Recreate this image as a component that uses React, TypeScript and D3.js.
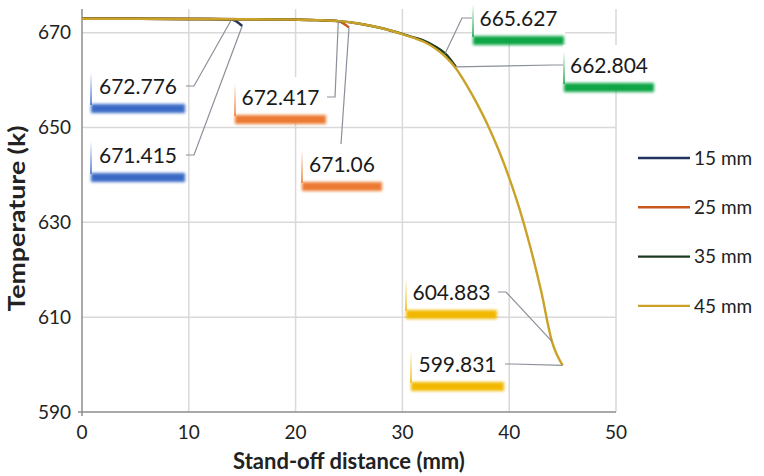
import React from 'react'
import * as d3 from 'd3'

const W = 764
const H = 476
const FONT = 'Lato, "Open Sans", sans-serif'

// stand-off distance (mm) / temperature (K) per series
const DIST_15 = [0, 5, 10, 12, 14, 15]
const TEMP_15 = [672.95, 672.93, 672.9, 672.88, 672.776, 671.415]

const DIST_25 = [0, 5, 10, 15, 20, 22, 24, 25]
const TEMP_25 = [672.95, 672.93, 672.9, 672.85, 672.75, 672.65, 672.417, 671.06]

const DIST_35 = [0, 5, 10, 15, 20, 22, 24, 26, 28, 30, 31, 32, 33, 34, 35]
const TEMP_35 = [672.95, 672.93, 672.9, 672.85, 672.75, 672.65, 672.45, 671.9, 671.0, 669.75, 669.05, 668.35, 667.2, 665.627, 662.804]

const DIST_45 = [0, 5, 10, 15, 20, 22, 24, 26, 28, 30, 31, 32, 33, 34, 35, 36, 37, 38, 39, 40, 41, 42, 43, 44, 45]
const TEMP_45 = [672.95, 672.93, 672.9, 672.85, 672.75, 672.65, 672.45, 671.9, 671.0, 669.7, 668.95, 668.1, 666.8, 665.0, 662.5, 659.0, 655.0, 650.5, 645.3, 639.4, 632.6, 624.6, 615.4, 604.883, 599.831]

const SERIES = [
  { name: '15 mm', dist: DIST_15, temp: TEMP_15, color: '#22345e' },
  { name: '25 mm', dist: DIST_25, temp: TEMP_25, color: '#c5581c' },
  { name: '35 mm', dist: DIST_35, temp: TEMP_35, color: '#1f3a22' },
  { name: '45 mm', dist: DIST_45, temp: TEMP_45, color: '#c9a227' },
]

const X_TICKS = [0, 10, 20, 30, 40, 50]
const Y_TICKS = [590, 610, 630, 650, 670]

// data callouts: which series / point, then where the label box sits
const CALLOUTS = [
  { series: 0, idx: 4, tone: '#3a6bc6' },
  { series: 0, idx: 5, tone: '#3a6bc6' },
  { series: 1, idx: 6, tone: '#ec7a30' },
  { series: 1, idx: 7, tone: '#ec7a30' },
  { series: 2, idx: 13, tone: '#10a544' },
  { series: 2, idx: 14, tone: '#10a544' },
  { series: 3, idx: 23, tone: '#f2b800' },
  { series: 3, idx: 24, tone: '#f2b800' },
]
const BOXES = [
  { x: 90, cy: 86, w: 96, side: 'right' },
  { x: 90, cy: 155, w: 96, side: 'right' },
  { x: 234, cy: 97, w: 93, side: 'right' },
  { x: 301, cy: 164, w: 82, side: 'top' },
  { x: 472, cy: 18, w: 93, side: 'left' },
  { x: 563, cy: 65, w: 92, side: 'left' },
  { x: 405, cy: 292, w: 93, side: 'right' },
  { x: 410, cy: 364, w: 95, side: 'right' },
]

const xScale = d3.scaleLinear().domain([0, 50]).range([82, 616])
const yScale = d3.scaleLinear().domain([590, 675]).range([412, 9])

const line = d3.line<[number, number]>()
  .x(d => xScale(d[0]))
  .y(d => yScale(d[1]))
  .curve(d3.curveMonotoneX)

export default function App() {
  const [x0, x1] = xScale.range()
  const [y0, y1] = yScale.range()
  return (
    <svg width={W} height={H} style={{ position: 'absolute', left: 0, top: 0, background: '#fff' }} fontFamily={FONT}>
      <defs>
        <filter id="soft" x="-10%" y="-80%" width="120%" height="260%">
          <feGaussianBlur stdDeviation="1.6" />
        </filter>
        {CALLOUTS.map((c, i) => (
          <linearGradient key={i} id={`edge${i}`} x1="0" y1="0" x2="0" y2="1">
            <stop offset="0" stopColor={c.tone} stopOpacity={0} />
            <stop offset="1" stopColor={c.tone} stopOpacity={0.8} />
          </linearGradient>
        ))}
      </defs>

      {/* grid */}
      {Y_TICKS.filter(t => t > 590).map(t => (
        <line key={'gy' + t} x1={x0} x2={x1} y1={yScale(t)} y2={yScale(t)} stroke="#d9d9d9" strokeWidth={1.5} />
      ))}
      {X_TICKS.filter(t => t > 0).map(t => (
        <line key={'gx' + t} x1={xScale(t)} x2={xScale(t)} y1={y1} y2={y0} stroke="#d9d9d9" strokeWidth={1.5} />
      ))}
      {/* axes */}
      <line x1={x0} x2={x0} y1={y1} y2={y0 + 4} stroke="#8c8c8c" strokeWidth={1.5} />
      <line x1={x0 - 4} x2={x1} y1={y0} y2={y0} stroke="#8c8c8c" strokeWidth={1.5} />

      {Y_TICKS.map(t => (
        <text key={'ty' + t} x={x0 - 11} y={yScale(t)} dy="0.35em" textAnchor="end" fontSize={19} fill="#222">{t}</text>
      ))}
      {X_TICKS.map(t => (
        <text key={'tx' + t} x={xScale(t)} y={y0 + 27} textAnchor="middle" fontSize={19} fill="#222">{t}</text>
      ))}
      <text transform={`translate(25,${(y0 + y1) / 2 + 8}) rotate(-90)`} textAnchor="middle" fontSize={22} fontWeight={700} fill="#222"
        textLength={186} lengthAdjust="spacingAndGlyphs">
        Temperature (k)
      </text>
      <text x={349} y={469} textAnchor="middle" fontSize={22} fontWeight={700} fill="#222">
        Stand-off distance (mm)
      </text>

      {/* series */}
      {SERIES.map(s => (
        <path key={s.name} d={line(s.dist.map((d, i) => [d, s.temp[i]] as [number, number])) || ''}
          fill="none" stroke={s.color} strokeWidth={2.4} />
      ))}

      {/* callouts */}
      {CALLOUTS.map((c, i) => {
        const s = SERIES[c.series]
        const px = xScale(s.dist[c.idx])
        const py = yScale(s.temp[c.idx])
        const b = BOXES[i]
        const top = b.cy - 20
        let pts: [number, number][]
        if (b.side === 'right') pts = [[b.x + b.w, b.cy], [b.x + b.w + 8, b.cy], [px, py]]
        else if (b.side === 'left') pts = [[b.x, b.cy], [b.x - 10, b.cy], [px, py]]
        else pts = [[b.x + 40, top], [px, py]]
        return (
          <g key={i}>
            <path d={d3.line()(pts) || ''} fill="none" stroke="#8a8f99" strokeWidth={1.2} />
            <rect x={b.x} y={top} width={b.w} height={39} fill="#fff" />
            <rect x={b.x} y={top + 6} width={2} height={33} fill={`url(#edge${i})`} />
            <rect x={b.x + 1} y={top + 38} width={b.w - 2} height={9} fill={c.tone} filter="url(#soft)" />
            <text x={b.x + b.w / 2} y={b.cy} dy="0.36em" textAnchor="middle" fontSize={21} fill="#1a1a1a">
              {s.temp[c.idx].toString()}
            </text>
          </g>
        )
      })}

      {/* legend */}
      {SERIES.map((s, i) => {
        const ly = 158 + i * 49.3
        return (
          <g key={'lg' + s.name}>
            <line x1={638} x2={690} y1={ly} y2={ly} stroke={s.color} strokeWidth={2.4} />
            <text x={694} y={ly} dy="0.35em" fontSize={19} fill="#222">{s.name}</text>
          </g>
        )
      })}
    </svg>
  )
}
